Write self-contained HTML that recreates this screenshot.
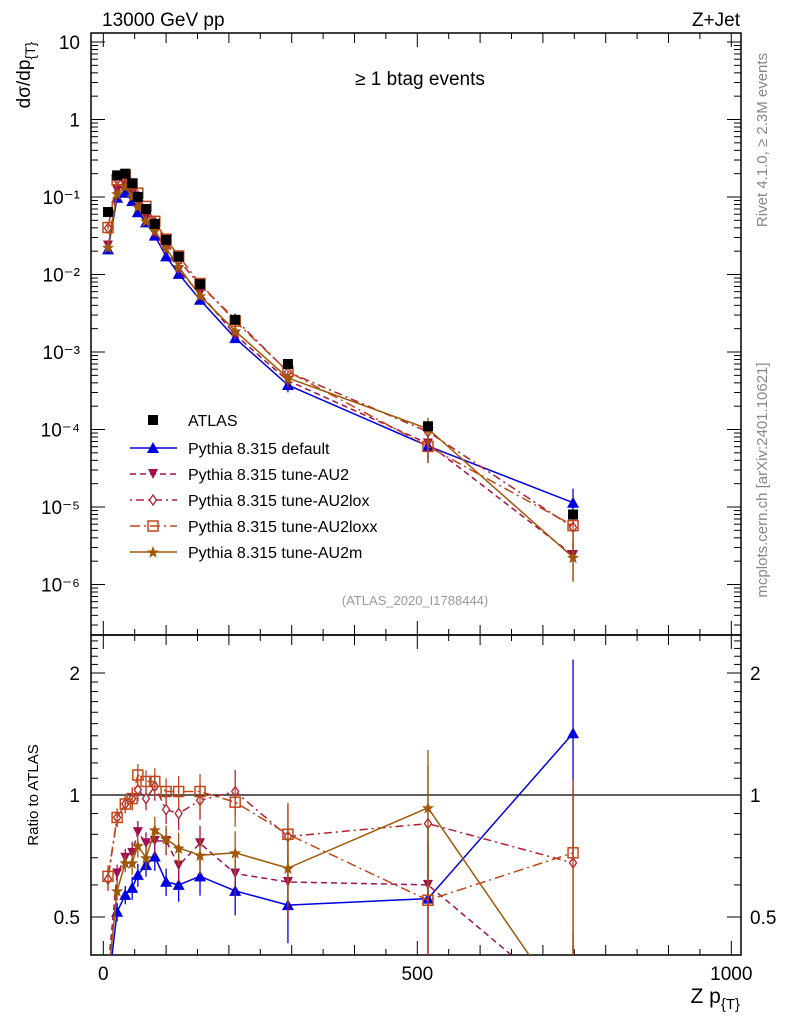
<!DOCTYPE html>
<html><head><meta charset="utf-8"><style>
html,body{margin:0;padding:0;background:#fff;overflow:hidden;width:786px;height:1024px;}
svg{font-family:"Liberation Sans",sans-serif;display:block;}
</style></head><body>
<svg id="c" width="786" height="1024" xmlns="http://www.w3.org/2000/svg">
<rect x="0" y="0" width="786" height="1024" fill="#fff"/>
<g id="main"></g>
<text x="102" y="26" font-size="19">13000 GeV pp</text>
<text x="740" y="26" font-size="19" text-anchor="end">Z+Jet</text>
<text x="420" y="85" font-size="19" text-anchor="middle">≥ 1 btag events</text>
<text x="415" y="605" font-size="13" fill="#999" text-anchor="middle">(ATLAS_2020_I1788444)</text>
<text transform="translate(767,140) rotate(-90)" font-size="15" fill="#888" text-anchor="middle">Rivet 4.1.0, ≥ 2.3M events</text>
<text transform="translate(767,480) rotate(-90)" font-size="15" fill="#888" text-anchor="middle">mcplots.cern.ch [arXiv:2401.10621]</text>
<text transform="translate(30,75) rotate(-90)" font-size="19" text-anchor="middle">dσ/dp<tspan font-size="14" dy="5">{T}</tspan></text>
<text transform="translate(38,795) rotate(-90)" font-size="15" text-anchor="middle">Ratio to ATLAS</text>
<text x="740" y="1003" font-size="21" text-anchor="end">Z p<tspan font-size="15" dy="6">{T}</tspan></text>
</svg>
<script>
const xs=[7.5,22,35,46,55,68,82,100,120,154,210,294,517,748];
const dataY=[0.064,0.19,0.2,0.15,0.1,0.07,0.045,0.028,0.017,0.0075,0.0026,0.0007,0.00011,0.000008];
const rDefault=[0.33,0.515,0.567,0.59,0.635,0.672,0.705,0.611,0.60,0.63,0.58,0.535,0.555,1.42];
const rAU2=[0.37,0.64,0.70,0.72,0.81,0.76,0.77,0.77,0.67,0.76,0.64,0.61,0.6,0.3];
const rAU2lox=[0.62,0.88,0.95,0.98,1.03,0.98,1.05,0.92,0.90,0.97,1.02,0.79,0.85,0.68];
const rAU2loxx=[0.63,0.88,0.95,0.98,1.12,1.08,1.08,1.02,1.02,1.02,0.96,0.80,0.55,0.72];
const rAU2m=[0.35,0.58,0.68,0.68,0.75,0.70,0.82,0.78,0.74,0.71,0.72,0.66,0.93,0.28];
const relErr=[0.05,0.04,0.04,0.05,0.05,0.05,0.06,0.06,0.07,0.08,0.1,0.15,0.3,0.4];
const yTicks=["10","1","10\u207B\u00B9","10\u207B\u00B2","10\u207B\u00B3","10\u207B\u2074","10\u207B\u2075","10\u207B\u2076"];
const xTickLabels=[0,500,1000];
const rTicks=[2,1,0.5];

const L=91,R=741,T=33,MB=635,RB=955;
const X=v=>103.3+v*0.628;
const Y=v=>119.5-Math.log10(v)*77.5;
const RY=v=>795-Math.log2(v)*122;
const NS="http://www.w3.org/2000/svg";
const g=document.getElementById('main');
function el(t,a,p){const e=document.createElementNS(NS,t);for(const k in a)e.setAttribute(k,a[k]);(p||g).appendChild(e);return e;}
const defs=el('defs',{});
const c1=el('clipPath',{id:'cm'},defs);el('rect',{x:L,y:T,width:R-L,height:MB-T},c1);
const c2=el('clipPath',{id:'cr'},defs);el('rect',{x:L,y:MB,width:R-L,height:RB-MB},c2);
let f=el('rect',{x:L,y:T,width:R-L,height:MB-T,fill:'none',stroke:'#000','stroke-width':1.5});


f=el('rect',{x:L,y:MB,width:R-L,height:RB-MB,fill:'none',stroke:'#000','stroke-width':1.5});


for(let d=-7;d<=1;d++){for(let m=1;m<10;m++){const v=m*Math.pow(10,d);const y=Y(v);if(y<T||y>MB)continue;const len=m==1?14:7;
el('line',{x1:L,x2:L+len,y1:y,y2:y,stroke:'#000'});el('line',{x1:R,x2:R-len,y1:y,y2:y,stroke:'#000'});}}
yTicks.forEach((t,i)=>{const v=Math.pow(10,1-i);const tx=el('text',{x:80,y:Y(v)+7,'font-size':19,'text-anchor':'end'});tx.textContent=t;

});
for(let v=0;v<=1000;v+=50){const x=X(v);if(x>R)break;const big=v%500==0?14:(v%100==0?10:6);
el('line',{x1:x,x2:x,y1:MB,y2:MB-big,stroke:'#000'});el('line',{x1:x,x2:x,y1:T,y2:T+big,stroke:'#000'});
el('line',{x1:x,x2:x,y1:RB,y2:RB-big,stroke:'#000'});el('line',{x1:x,x2:x,y1:MB,y2:MB+big,stroke:'#000'});}
xTickLabels.forEach(v=>{const tx=el('text',{x:X(v),y:980,'font-size':19,'text-anchor':'middle'});tx.textContent=v;

});
for(let v=0.4;v<=2.5;v+=0.1){const y=RY(v);if(y<MB||y>RB)continue;const maj=[0.5,1,2].some(a=>Math.abs(a-v)<1e-6);const len=maj?14:7;
el('line',{x1:L,x2:L+len,y1:y,y2:y,stroke:'#000'});el('line',{x1:R,x2:R-len,y1:y,y2:y,stroke:'#000'});}
rTicks.forEach(v=>{let tx=el('text',{x:80,y:RY(v)+7,'font-size':19,'text-anchor':'end'});tx.textContent=v;


tx=el('text',{x:750,y:RY(v)+7,'font-size':19});tx.textContent=v;

});
el('line',{x1:L,x2:R,y1:RY(1),y2:RY(1),stroke:'#000','stroke-width':1.2});

function marker(type,x,y,col,parent){
 if(type=='sq') return el('rect',{x:x-5,y:y-5,width:10,height:10,fill:'#000'},parent);
 if(type=='up') return el('path',{d:`M${x} ${y-6}L${x+6} ${y+5}L${x-6} ${y+5}Z`,fill:col},parent);
 if(type=='dn') return el('path',{d:`M${x} ${y+5}L${x+5} ${y-5}L${x-5} ${y-5}Z`,fill:col},parent);
 if(type=='dia') return el('path',{d:`M${x} ${y-5}L${x+3.5} ${y}L${x} ${y+5}L${x-3.5} ${y}Z`,fill:'#fff',stroke:col,'stroke-width':1.3},parent);
 if(type=='osq') return el('rect',{x:x-5,y:y-5,width:10,height:10,fill:'none',stroke:col,'stroke-width':1.5},parent);
 if(type=='star') return el('path',{d:`M${x} ${y-6}L${x+1.7} ${y-1.5}L${x+6} ${y-1.5}L${x+2.5} ${y+1.5}L${x+3.7} ${y+6}L${x} ${y+3.2}L${x-3.7} ${y+6}L${x-2.5} ${y+1.5}L${x-6} ${y-1.5}L${x-1.7} ${y-1.5}Z`,fill:col},parent);
}
const series=[
 {n:'pythia-default',r:rDefault,c:'#0000e0',m:'up',d:'',lab:'Pythia 8.315 default'},
 {n:'pythia-au2',r:rAU2,c:'#a01050',m:'dn',d:'6,4',lab:'Pythia 8.315 tune-AU2'},
 {n:'pythia-au2lox',r:rAU2lox,c:'#b02030',m:'dia',d:'2,4,8,4',lab:'Pythia 8.315 tune-AU2lox'},
 {n:'pythia-au2loxx',r:rAU2loxx,c:'#c04818',m:'osq',d:'10,4,2,4',lab:'Pythia 8.315 tune-AU2loxx'},
 {n:'pythia-au2m',r:rAU2m,c:'#a05808',m:'star',d:'',lab:'Pythia 8.315 tune-AU2m'}];
const gm=el('g',{'clip-path':'url(#cm)'});


const gr=el('g',{'clip-path':'url(#cr)'});


series.forEach(s=>{
 const ptsM=xs.map((x,i)=>X(x)+','+Y(s.r[i]*dataY[i])).join(' ');
 const ptsR=xs.map((x,i)=>X(x)+','+RY(s.r[i])).join(' ');
 let p=el('polyline',{points:ptsM,fill:'none',stroke:s.c,'stroke-width':1.5,'stroke-dasharray':s.d},gm);
 
 
 p=el('polyline',{points:ptsR,fill:'none',stroke:s.c,'stroke-width':1.5,'stroke-dasharray':s.d},gr);
 
 
 xs.forEach((x,i)=>{const e=relErr[i]*1.3;const r=s.r[i];
  el('line',{x1:X(x),x2:X(x),y1:RY(r*(1+e)),y2:RY(Math.max(r*(1-e),0.05)),stroke:s.c,'stroke-width':1.3},gr);
  el('line',{x1:X(x),x2:X(x),y1:Y(r*dataY[i]*(1+e)),y2:Y(r*dataY[i]*Math.max(1-e,0.05)),stroke:s.c,'stroke-width':1.3},gm);
  let mk=marker(s.m,X(x),Y(r*dataY[i]),s.c,gm);
  
  
  mk=marker(s.m,X(x),RY(r),s.c,gr);
  
  
 });
});
xs.forEach((x,i)=>{const mk=marker('sq',X(x),Y(dataY[i]),'#000',gm);
 
 });
const lg=el('g',{});


const ly=[420,448,474,500,526,552];
let t=el('text',{x:188,y:ly[0]+6,'font-size':16},lg);t.textContent='ATLAS';
marker('sq',153,ly[0],'#000',lg);
series.forEach((s,i)=>{const y=ly[i+1];
 const le=el('g',{},lg);
 
 
 el('line',{x1:130,x2:177,y1:y,y2:y,stroke:s.c,'stroke-width':1.5,'stroke-dasharray':s.d},le);
 marker(s.m,153,y,s.c,le);
 const tt=el('text',{x:188,y:y+6,'font-size':16},le);tt.textContent=s.lab;});
</script>
</body></html>
